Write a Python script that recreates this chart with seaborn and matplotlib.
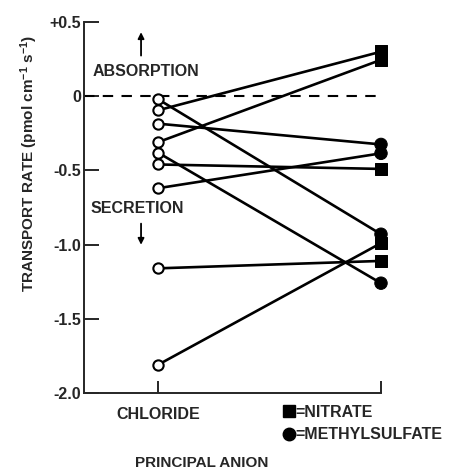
import numpy as np
import pandas as pd
import seaborn as sns
import matplotlib.pyplot as plt
from matplotlib.lines import Line2D

# transport rates (pmol cm-1 s-1)
chloride = [-0.02, -0.095, -0.185, -0.31, -0.38, -0.46, -0.62, -1.16, -1.81]
other_rate = [-0.93, 0.30, -0.325, 0.245, -1.26, -0.49, -0.385, -1.11, -0.99]
other_anion = ["METHYLSULFATE", "NITRATE", "METHYLSULFATE", "NITRATE", "METHYLSULFATE",
               "NITRATE", "METHYLSULFATE", "NITRATE", "NITRATE"]
y_ticks = [0.5, 0, -0.5, -1.0, -1.5, -2.0]
y_ticklabels = ["+0.5", "0", "-0.5", "-1.0", "-1.5", "-2.0"]
x_labels = ["CHLORIDE", ""]

sns.set_style("ticks")
plt.rcParams["font.family"] = ["Liberation Sans", "DejaVu Sans"]
plt.rcParams["font.weight"] = "bold"
plt.rcParams["mathtext.fontset"] = "custom"
plt.rcParams["mathtext.rm"] = "Liberation Sans:bold"
plt.rcParams["mathtext.default"] = "rm"

n = len(chloride)
lines = pd.DataFrame({
    "pair": list(range(n)) * 2,
    "x": [0] * n + [1] * n,
    "rate": chloride + other_rate,
})
right = pd.DataFrame({"x": [1] * n, "rate": other_rate, "anion": other_anion})
left = pd.DataFrame({"x": [0] * n, "rate": chloride})

fig = plt.figure(figsize=(4.61, 4.72), dpi=100)
ax = fig.add_axes([84 / 461, 1 - 393 / 472, 352.75 / 461, 371 / 472])

ax.axhline(0, color="black", lw=1.5, ls=(0, (5, 4)), xmax=(1 + 0.3318) / (1.25 + 0.3318), zorder=1)

sns.lineplot(data=lines, x="x", y="rate", units="pair", estimator=None, sort=False,
             color="black", lw=1.9, legend=False, ax=ax, zorder=2)
sns.scatterplot(data=right, x="x", y="rate", style="anion",
                markers={"NITRATE": "s", "METHYLSULFATE": "o"},
                color="black", edgecolor="black", s=80, legend=False, ax=ax, zorder=3)
sns.scatterplot(data=left, x="x", y="rate", facecolor="white", edgecolor="black",
                linewidth=1.5, s=55, legend=False, ax=ax, zorder=4)

ax.set_xlim(-0.3318, 1.25)
ax.set_ylim(-2.0, 0.5)
ax.set_xticks([0, 1])
ax.set_xticklabels(x_labels, fontsize=11.5, fontweight="bold")
ax.set_yticks(y_ticks)
ax.set_yticklabels(y_ticklabels, fontsize=11.5, fontweight="bold")
ax.tick_params(axis="y", direction="in", length=10.8, width=1.4, pad=2)
ax.tick_params(axis="x", direction="in", length=8.6, width=1.4, pad=10)
ax.set_xlabel("")
ax.set_ylabel("")

sns.despine(ax=ax)
ax.spines["bottom"].set_bounds(-0.3318, 1)
for s in ["left", "bottom"]:
    ax.spines[s].set_linewidth(1.4)

# direction annotations
ax.text(-0.054, 0.168, "ABSORPTION", ha="center", va="center", fontsize=11.5, fontweight="bold")
ax.text(-0.092, -0.76, "SECRETION", ha="center", va="center", fontsize=11.5, fontweight="bold")
ax.annotate("", xy=(-0.076, 0.45), xytext=(-0.076, 0.255),
            arrowprops=dict(arrowstyle="-|>", color="black", lw=1.3, mutation_scale=9))
ax.annotate("", xy=(-0.076, -1.02), xytext=(-0.076, -0.84),
            arrowprops=dict(arrowstyle="-|>", color="black", lw=1.3, mutation_scale=9))

fig.text(29 / 461, 1 - 163 / 472, r"TRANSPORT RATE (pmol cm$^{-1}$ s$^{-1}$)",
         rotation=90, ha="center", va="center", fontsize=11, fontweight="bold")
fig.text(202 / 461, 1 - 463 / 472, "PRINCIPAL ANION", ha="center", va="center",
         fontsize=11, fontweight="bold")

handles = [Line2D([], [], marker="s", color="black", ls="none", markersize=9),
           Line2D([], [], marker="o", color="black", ls="none", markersize=9)]
ax.legend(handles, ["=NITRATE", "=METHYLSULFATE"], loc="upper left",
          bbox_to_anchor=(283 / 461, 1 - 405 / 472), bbox_transform=fig.transFigure,
          frameon=False, borderpad=0, borderaxespad=0, handlelength=0.7,
          handletextpad=0.1, labelspacing=0.45, prop={"size": 11.5, "weight": "bold"})

fig.savefig("out.png", dpi=100)
